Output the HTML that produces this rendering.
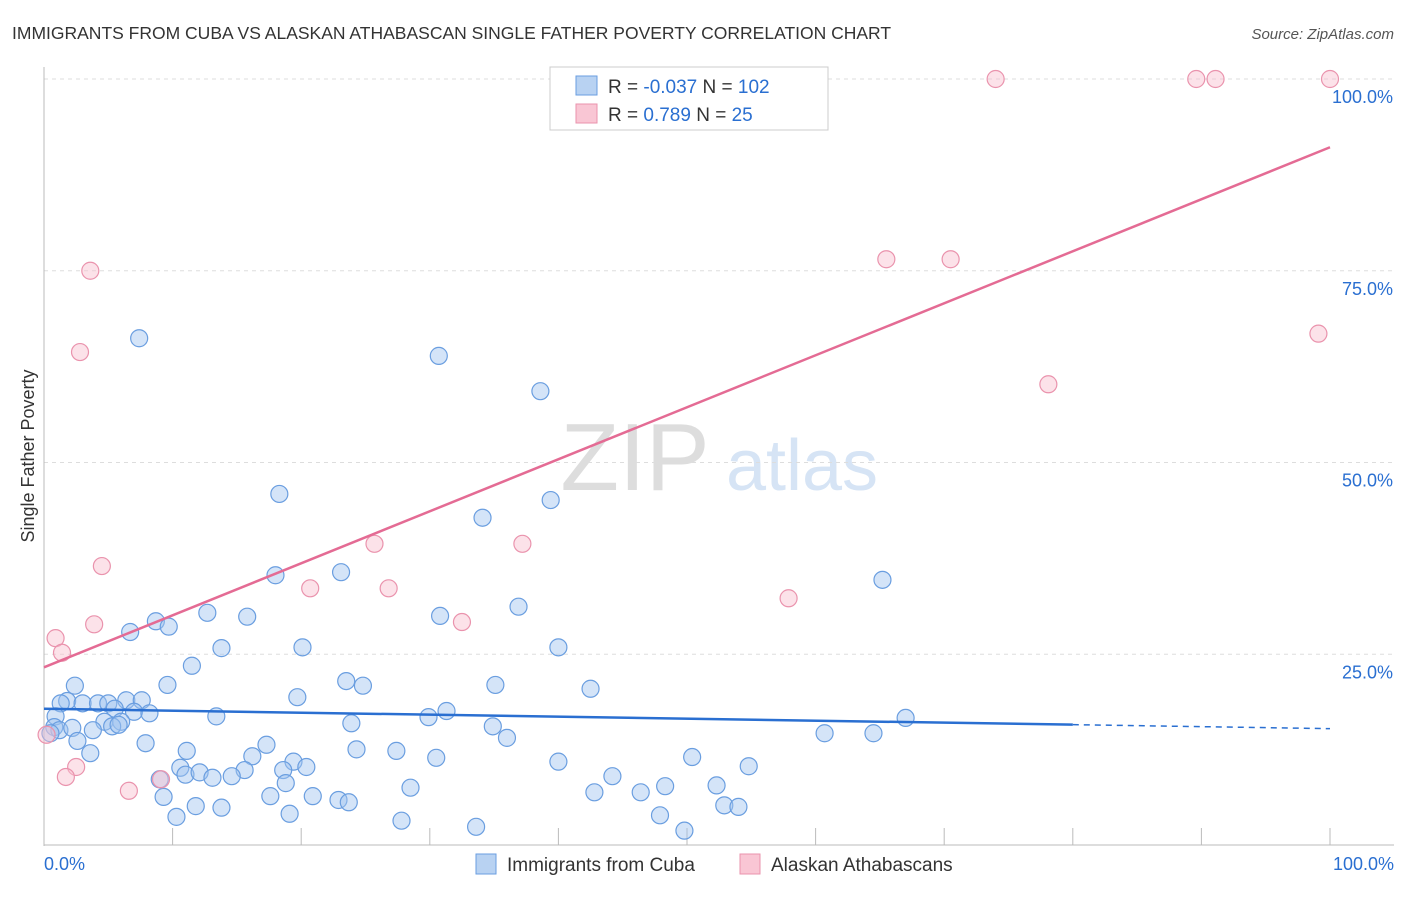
<!DOCTYPE html>
<html><head><meta charset="utf-8"><style>
body{margin:0;background:#fff;font-family:"Liberation Sans",sans-serif}
svg text{font-family:"Liberation Sans",sans-serif}
</style></head><body>
<svg id="c" width="1406" height="892">
<text x="12" y="39" font-size="17.5" fill="#333">IMMIGRANTS FROM CUBA VS ALASKAN ATHABASCAN SINGLE FATHER POVERTY CORRELATION CHART</text>
<text x="1394" y="39" font-size="15" fill="#555" text-anchor="end" font-style="italic">Source: ZipAtlas.com</text>
<text transform="translate(34,456) rotate(-90)" font-size="18" fill="#333" text-anchor="middle">Single Father Poverty</text>
<g><text x="635" y="490" font-size="96" fill="#ddd" font-family="Liberation Serif" text-anchor="middle">ZIP</text><text x="802" y="490" font-size="72" fill="#d6e4f5" text-anchor="middle">atlas</text></g>
<g id="grid"></g><g id="marks"></g>
<g>
<rect x="550" y="67" width="278" height="63" fill="#fff" stroke="#ccc"/>
<rect x="576" y="76" width="21" height="19" fill="#b8d2f2" stroke="#6a9ee0"/>
<rect x="576" y="104" width="21" height="19" fill="#f9c6d4" stroke="#ea93ad"/>
<text x="608" y="93" font-size="19" fill="#333">R = <tspan fill="#2a6fd1">-0.037</tspan>   N = <tspan fill="#2a6fd1">102</tspan></text>
<text x="608" y="121" font-size="19" fill="#333">R =   <tspan fill="#2a6fd1">0.789</tspan>   N =   <tspan fill="#2a6fd1">25</tspan></text>
</g>
<g>
<rect x="476" y="854" width="20" height="20" fill="#b8d2f2" stroke="#6a9ee0"/>
<text x="507" y="871" font-size="19" fill="#333">Immigrants from Cuba</text>
<rect x="740" y="854" width="20" height="20" fill="#f9c6d4" stroke="#ea93ad"/>
<text x="771" y="871" font-size="19" fill="#333">Alaskan Athabascans</text>
</g>
</svg>
<script>
const xTicks=[0,10,20,30,40,50,60,70,80,90,100];
const yTicks=[25,50,75,100];
const yTickLabels=["25.0%","50.0%","75.0%","100.0%"];
const cubaX=[7.4,30.7,38.6,18.3,39.4,34.1,18.0,23.1,65.2,36.9,12.7,15.8,30.8,8.7,9.7,6.7,13.8,20.1,40.0,11.5,23.5,24.8,35.1,9.6,2.4,42.5,19.7,1.8,1.3,3.0,4.2,5.0,6.4,7.6,5.5,7.0,8.2,31.3,29.9,13.4,67.0,0.9,4.7,6.0,23.9,0.8,1.2,2.2,3.8,5.3,5.8,34.9,60.7,64.5,36.0,2.6,7.9,17.3,3.6,11.1,24.3,27.4,16.2,50.4,30.5,19.4,40.0,10.6,20.4,54.8,15.6,18.6,11.0,12.1,14.6,13.1,9.0,44.2,18.8,28.5,48.3,52.3,17.6,20.9,42.8,46.4,9.3,22.9,23.7,11.8,13.8,52.9,54.0,19.1,10.3,27.8,47.9,33.6,49.8,0.5];
const cubaY=[66.2,63.9,59.3,45.9,45.1,42.8,35.3,35.7,34.7,31.2,30.4,29.9,30.0,29.3,28.6,27.9,25.8,25.9,25.9,23.5,21.5,20.9,21.0,21.0,20.9,20.5,19.4,18.9,18.6,18.6,18.6,18.6,19.0,19.0,17.9,17.5,17.3,17.6,16.8,16.9,16.7,16.9,16.2,16.2,16.0,15.5,15.1,15.4,15.1,15.6,15.8,15.6,14.7,14.7,14.1,13.7,13.4,13.2,12.1,12.4,12.6,12.4,11.7,11.6,11.5,11.0,11.0,10.2,10.3,10.4,9.9,9.9,9.3,9.6,9.1,8.9,8.7,9.1,8.2,7.6,7.8,7.9,6.5,6.5,7.0,7.0,6.4,6.0,5.7,5.2,5.0,5.3,5.1,4.2,3.8,3.3,4.0,2.5,2.0,14.7];
const athX=[74.0,89.6,91.1,100,3.6,65.5,70.5,99.1,2.8,78.1,25.7,37.2,4.5,20.7,26.8,57.9,3.9,32.5,0.9,1.4,0.2,2.5,1.7,9.1,6.6];
const athY=[100,100,100,100,75.0,76.5,76.5,66.8,64.4,60.2,39.4,39.4,36.5,33.6,33.6,32.3,28.9,29.2,27.1,25.2,14.5,10.3,9.0,8.7,7.2];
const cubaTrend=[17.9,15.3];
const athTrend=[23.3,91.1];
const NS="http://www.w3.org/2000/svg";
const X=v=>44+v*12.86, Y=v=>846-v*7.67;
function mk(t,a,p){const e=document.createElementNS(NS,t);for(const k in a)e.setAttribute(k,a[k]);p.appendChild(e);return e;}
const g=document.getElementById('grid'),m=document.getElementById('marks');
yTicks.forEach((t,i)=>{
 const l=mk('line',{x1:44,x2:1394,y1:Y(t),y2:Y(t),stroke:'#ddd','stroke-dasharray':'4,4'},g);
 
 
 const tx=mk('text',{x:1393,y:Y(t)+24,'font-size':18,fill:'#2a6fd1','text-anchor':'end'},g);
 tx.textContent=yTickLabels[i];
 
 
});
const ax=mk('line',{x1:44,x2:44,y1:67,y2:846,stroke:'#bbb'},g);


const bx=mk('line',{x1:44,x2:1394,y1:845,y2:845,stroke:'#bbb'},g);


xTicks.forEach(t=>{
 const l=mk('line',{x1:X(t),x2:X(t),y1:828,y2:845,stroke:'#bbb'},g);
 
 
});
[[0,"0.0%",'start',44],[100,"100.0%",'end',1394]].forEach(d=>{
 const tx=mk('text',{x:d[3],y:870,'font-size':18,fill:'#2a6fd1','text-anchor':d[2]},g);
 tx.textContent=d[1];
 
 
});
cubaX.forEach((v,i)=>{
 const c=mk('circle',{cx:X(v),cy:Y(cubaY[i]),r:8.5,fill:'rgba(160,196,240,0.45)',stroke:'#6a9ee0','stroke-width':1.2},m);
 
 
});
athX.forEach((v,i)=>{
 const c=mk('circle',{cx:X(v),cy:Y(athY[i]),r:8.5,fill:'rgba(248,190,206,0.45)',stroke:'#ea93ad','stroke-width':1.2},m);
 
 
});
const cy80=cubaTrend[0]+(cubaTrend[1]-cubaTrend[0])*0.8;
const t1=mk('line',{x1:X(0),y1:Y(cubaTrend[0]),x2:X(80),y2:Y(cy80),stroke:'#2a6fd1','stroke-width':2.5},m);


const t2=mk('line',{x1:X(80),y1:Y(cy80),x2:X(100),y2:Y(cubaTrend[1]),stroke:'#2a6fd1','stroke-width':1.5,'stroke-dasharray':'6,5'},m);


const t3=mk('line',{x1:X(0),y1:Y(athTrend[0]),x2:X(100),y2:Y(athTrend[1]),stroke:'#e46b94','stroke-width':2.5},m);


</script>
</body></html>
